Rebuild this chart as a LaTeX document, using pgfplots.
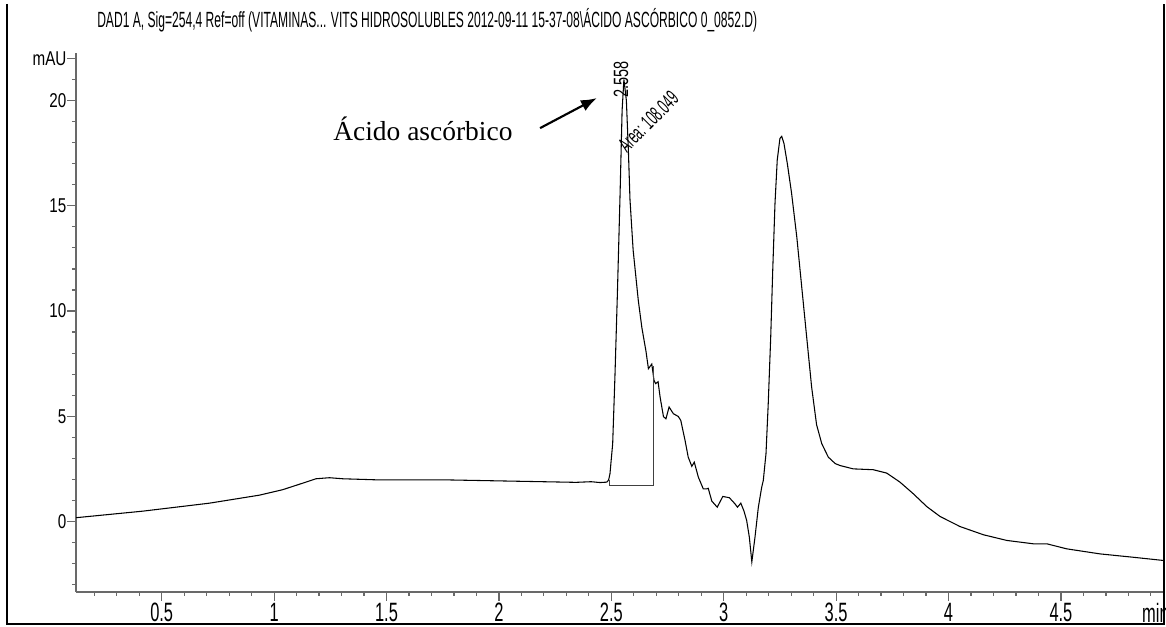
\documentclass[border=0pt]{standalone}
\usepackage{pgfplots}
\pgfplotsset{compat=1.18}
\usepackage{fontspec}
\setmainfont{Liberation Sans}
\newfontfamily\serifA{Liberation Serif}
\usetikzlibrary{arrows.meta}
\definecolor{axgray}{RGB}{105,105,105}
\newcommand{\cy}[1]{\scalebox{0.76}[1]{#1}}
\newcommand{\cx}[1]{\scalebox{0.62}[1]{#1}}
\begin{document}
\begin{tikzpicture}
\path[use as bounding box] (0,0) rectangle (874.5pt,470.25pt);
% outer frame
\draw[black, line width=1.1pt] (5.25pt,467.25pt) -- (5.25pt,2.25pt) -- (873pt,2.25pt) -- (873pt,467.25pt);
% title
\node[anchor=base west, inner sep=0pt] at (72.75pt,449.8pt)
  {\resizebox{495pt}{\height}{\fontsize{16.5pt}{18pt}\selectfont DAD1 A, Sig=254,4 Ref=off (VITAMINAS... VITS HIDROSOLUBLES 2012-09-11 15-37-08\textbackslash ÁCIDO ASCÓRBICO 0\_0852.D)}};
\begin{axis}[
  at={(57pt,26.25pt)}, anchor=south west,
  scale only axis, width=815.25pt, height=404.25pt,
  xmin=0.1188, xmax=4.954, ymin=-3.35, ymax=22.26,
  axis x line*=bottom, axis y line*=left,
  axis line style={axgray, line width=1pt},
  tick align=outside,
  major tick length=6.5pt, minor tick length=3pt,
  every tick/.style={axgray, line width=0.9pt},
  xtick={0.5,1,1.5,2,2.5,3,3.5,4,4.5},
  xticklabels={\cx{0.5},\cx{1},\cx{1.5},\cx{2},\cx{2.5},\cx{3},\cx{3.5},\cx{4},\cx{4.5}},
  minor xtick={0.2,0.3,...,4.9},
  ytick={0,5,10,15,20,22},
  yticklabels={\cy{0},\cy{5},\cy{10},\cy{15},\cy{20},\cy{mAU}},
  minor ytick={-3,-2,...,21},
  xticklabel style={font=\fontsize{19.9pt}{20pt}\selectfont, inner sep=0pt, yshift=-1.75pt},
  yticklabel style={font=\fontsize{15pt}{16pt}\selectfont, inner sep=0pt, xshift=-0.5pt},
  clip=false,
]
\addplot[black, line width=0.8pt] coordinates {
(0.119,0.18) (0.415,0.49) (0.712,0.87) (0.934,1.25) (1.038,1.51) (1.127,1.82) (1.186,2.03) (1.246,2.08) (1.305,2.03) (1.453,1.98) (1.750,1.98) (2.046,1.92) (2.343,1.86) (2.41,1.89) (2.45,1.85) (2.48,1.87) (2.488,1.97) (2.494,2.27) (2.506,3.69) (2.516,6.86) (2.527,10.83) (2.539,15.58) (2.548,19.54) (2.556,21.0) (2.567,20.0) (2.576,17.6) (2.583,15.3) (2.597,12.9) (2.620,10.5) (2.636,9.2) (2.654,8.1) (2.665,7.26) (2.680,7.48) (2.690,6.7) (2.697,6.55) (2.708,6.64) (2.717,5.91) (2.732,4.98) (2.743,4.88) (2.757,5.44) (2.776,5.12) (2.798,4.99) (2.809,4.80) (2.828,3.85) (2.842,3.06) (2.858,2.62) (2.869,2.82) (2.887,2.11) (2.909,1.55) (2.924,1.55) (2.931,1.58) (2.947,0.97) (2.971,0.68) (2.996,1.19) (3.025,1.13) (3.050,0.84) (3.061,0.68) (3.076,0.87) (3.090,0.5) (3.102,0.05) (3.114,-0.75) (3.125,-1.92) (3.139,-0.75) (3.154,0.68) (3.169,1.63) (3.176,1.95) (3.188,3.22) (3.198,5.6) (3.209,8.76) (3.218,11.94) (3.228,15.1) (3.238,17.17) (3.250,18.2) (3.258,18.3) (3.268,17.96) (3.283,17.0) (3.302,15.58) (3.325,13.52) (3.347,11.14) (3.369,8.76) (3.391,6.39) (3.413,4.6) (3.436,3.7) (3.465,3.06) (3.496,2.75) (3.517,2.66) (3.576,2.50) (3.665,2.46) (3.725,2.30) (3.784,1.87) (3.843,1.32) (3.903,0.71) (3.962,0.24) (4.051,-0.24) (4.155,-0.63) (4.259,-0.90) (4.377,-1.06) (4.437,-1.06) (4.526,-1.30) (4.674,-1.54) (4.822,-1.70) (4.954,-1.85)
};
% integration baseline box
\addplot[black!75, line width=0.8pt] coordinates {(2.491,1.97) (2.491,1.71) (2.687,1.71) (2.687,7.4)};
% annotations
\node[anchor=base west, inner sep=0pt, font=\serifA\fontsize{20.6pt}{22pt}\selectfont] at (axis cs:1.262,18.08) {Ácido ascórbico};
\draw[black, line width=1.6pt, -{Latex[length=12pt,width=9pt]}] (axis cs:2.183,18.69) -- (axis cs:2.436,20.12);
\node[rotate=90, anchor=west, inner sep=0pt, font=\fontsize{15.5pt}{16pt}\selectfont] at (axis cs:2.543,20.12) {\scalebox{0.7}[1]{2.558}};
\node[rotate=45, anchor=base west, inner sep=0pt, font=\fontsize{16pt}{17pt}\selectfont] at (axis cs:2.569,17.49) {\scalebox{0.55}[1]{Area: 108.049}};
\node[anchor=north, inner sep=0pt, font=\fontsize{19.9pt}{20pt}\selectfont] at (rel axis cs:0.993,0) [yshift=-8.25pt] {\cx{min}};
\end{axis}
\end{tikzpicture}
\end{document}
